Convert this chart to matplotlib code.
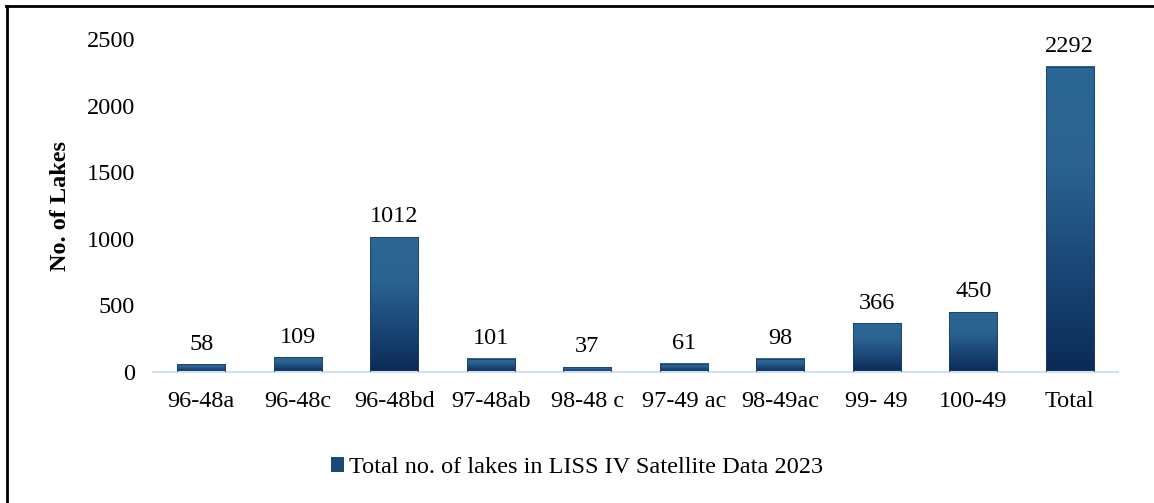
import numpy as np
import matplotlib as mpl
mpl.use('Agg')
import matplotlib.pyplot as plt
from matplotlib.colors import LinearSegmentedColormap
from matplotlib.patches import Rectangle
from matplotlib.lines import Line2D

plt.rcParams['font.family'] = ['Liberation Serif', 'DejaVu Serif']

sheets = ["96-48a", "96-48c", "96-48bd", "97-48ab", "98-48 c",
          "97-49 ac", "98-49ac", "99- 49", "100-49", "Total"]
lakes = [58, 109, 1012, 101, 37, 61, 98, 366, 450, 2292]
series_name = "Total no. of lakes in LISS IV Satellite Data 2023"

fig = plt.figure(figsize=(11.54, 5.03), dpi=100)
ax = fig.add_axes([0.1326, 0.2604, 0.8362, 0.6621])

cmap = LinearSegmentedColormap.from_list("bar", ["#0b2a55", "#1a4676", "#2a6390", "#2c6694"])
grad = np.linspace(0, 1, 256).reshape(-1, 1)
width = 0.5
x = np.arange(len(sheets))
for xi, v in zip(x, lakes):
    ax.imshow(grad, cmap=cmap, aspect='auto', origin='lower',
              extent=(xi - width / 2, xi + width / 2, 0, v), zorder=2)
    ax.add_patch(Rectangle((xi - width / 2, 0), width, v, fill=False,
                           edgecolor="#1d3f66", lw=0.6, zorder=3))
    ax.annotate(str(v), (xi, v), xytext=(0, 7), textcoords='offset points',
                ha='center', va='bottom', fontsize=17.5)

ax.set_xlim(-0.5, len(sheets) - 0.5)
ax.set_ylim(0, 2500)
ax.set_yticks(np.arange(0, 2501, 500))
ax.set_xticks(x)
ax.set_xticklabels(sheets)
ax.tick_params(length=0, labelsize=17.5)
ax.tick_params(axis='y', pad=13)
ax.tick_params(axis='x', pad=14)
for s in ['top', 'right', 'left']:
    ax.spines[s].set_visible(False)
ax.spines['bottom'].set_color("#cfe2f3")
ax.spines['bottom'].set_linewidth(1.5)
ax.set_ylabel("No. of Lakes", fontsize=17.5, fontweight='bold', labelpad=11)

handle = Rectangle((0, 0), 1, 1, facecolor="#1b4a7a")
fig.legend([handle], [series_name], loc='center', bbox_to_anchor=(0.5, 0.07),
           frameon=False, fontsize=17.5, handlelength=0.55, handleheight=0.55,
           handletextpad=0.2)

# outer frame (top and left edges visible)
fig.add_artist(Line2D([0.006, 0.006], [0, 0.988], transform=fig.transFigure,
                      color='black', lw=2))
fig.add_artist(Line2D([0.005, 1.0], [0.988, 0.988], transform=fig.transFigure,
                      color='black', lw=2))

plt.savefig("out.png", dpi=100)
